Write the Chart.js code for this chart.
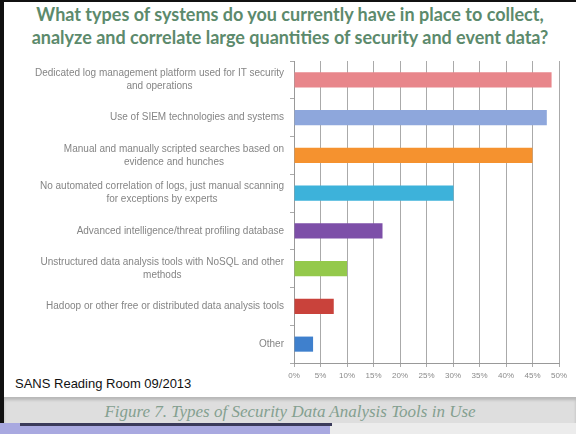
<!DOCTYPE html>
<html>
<head>
<meta charset="utf-8">
<script src="https://cdn.jsdelivr.net/npm/chart.js@4.4.1/dist/chart.umd.min.js"></script>
<style>
  html, body { margin: 0; padding: 0; }
  body { width: 576px; height: 434px; position: relative; overflow: hidden; background: #fff; }
  #frameTop { position: absolute; left: 0; top: 0; width: 576px; height: 2px; background: #111; }
  #frameLeft { position: absolute; left: 0; top: 0; width: 4px; height: 424px; background: #111; }
  .title { position: absolute; left: 4px; width: 572px; text-align: center; font-family: Lato, sans-serif;
           font-weight: bold; font-size: 18px; color: #5c8a6c; white-space: nowrap; }
  #chartBox { position: absolute; left: 0; top: 55px; width: 576px; height: 340px; }
  #source { position: absolute; left: 10px; top: 371px; width: 222px; height: 26px; background: #fff;
            font-family: "Liberation Sans", Arial, sans-serif; font-size: 13px; color: #111; line-height: 26px;
            padding-left: 5px; box-sizing: border-box; }
  #band { position: absolute; left: 4px; top: 397px; width: 572px; height: 27px; background: #dedede;
          box-shadow: inset 0 3px 3px #b8b8b8; }
  #caption { position: absolute; left: 4px; width: 572px; top: 402px; text-align: center; white-space: nowrap;
             font-family: "Liberation Serif", serif; font-style: italic; font-size: 17px; color: #84a090; }
  #strip { position: absolute; left: 0; top: 423px; width: 576px; height: 11px; background: #ececec; }
  #stripLink { position: absolute; left: 0; top: 423px; width: 330px; height: 11px; background: #a9a9e0; }
  #stripLine { position: absolute; left: 20px; top: 423px; width: 312px; height: 3px; background: #3a3a5a; }
</style>
</head>
<body>
<div id="frameTop"></div>
<div id="frameLeft"></div>
<div class="title" style="top:3px">What types of systems do you currently have in place to collect,</div>
<div class="title" style="top:26px">analyze and correlate large quantities of security and event data?</div>
<div id="chartBox"><canvas id="chart"></canvas></div>
<div id="band"></div>
<div id="caption">Figure 7. Types of Security Data Analysis Tools in Use</div>
<div id="strip"></div>
<div id="stripLink"></div>
<div id="stripLine"></div>
<div id="source">SANS Reading Room 09/2013</div>
<script>
var categories = [
  ['Dedicated log management platform used for IT security', 'and operations'],
  'Use of SIEM technologies and systems',
  ['Manual and manually scripted searches based on', 'evidence and hunches'],
  ['No automated correlation of logs, just manual scanning', 'for exceptions by experts'],
  'Advanced intelligence/threat profiling database',
  ['Unstructured data analysis tools with NoSQL and other', 'methods'],
  'Hadoop or other free or distributed data analysis tools',
  'Other'
];
var percentValues = [48.6, 47.7, 45.0, 30.1, 16.7, 10.0, 7.5, 3.6];
var barColors = ['#e8868b', '#8ea7dc', '#f5922f', '#3db2da', '#7d4fa8', '#94c94b', '#c9423b', '#3f80cd'];
var tickValues = [0, 5, 10, 15, 20, 25, 30, 35, 40, 45, 50];

// draws the category labels, lines centred on each other, block right-aligned to the axis
var centredLabels = {
  id: 'centredLabels',
  afterDraw: function (chart) {
    var y = chart.scales.y;
    var ctx = chart.ctx;
    var rightEdge = y.right - 10;
    ctx.save();
    ctx.font = '10px "Liberation Sans", Arial, sans-serif';
    ctx.fillStyle = '#858585';
    ctx.textAlign = 'center';
    ctx.textBaseline = 'middle';
    categories.forEach(function (lab, i) {
      var lines = Array.isArray(lab) ? lab : [lab];
      var widest = 0;
      lines.forEach(function (l) { widest = Math.max(widest, ctx.measureText(l).width); });
      var cx = rightEdge - widest / 2;
      var cy = y.getPixelForTick(i) - (lines.length - 1) * 13 / 2;
      lines.forEach(function (l, k) { ctx.fillText(l, cx, cy + k * 13); });
    });
    ctx.restore();
  }
};

new Chart(document.getElementById('chart'), {
  type: 'bar',
  data: {
    labels: categories,
    datasets: [{
      data: percentValues,
      backgroundColor: barColors,
      borderWidth: 0,
      barPercentage: 0.4,
      categoryPercentage: 1.0
    }]
  },
  options: {
    indexAxis: 'y',
    responsive: true,
    maintainAspectRatio: false,
    animation: false,
    layout: { padding: { top: 6, right: 17, left: 0, bottom: 0 } },
    plugins: { legend: { display: false }, tooltip: { enabled: false } },
    scales: {
      x: {
        min: 0,
        max: 50,
        afterBuildTicks: function (axis) {
          axis.ticks = tickValues.map(function (v) { return { value: v }; });
        },
        afterFit: function (axis) { axis.height = 32; },
        grid: { color: '#aaaaaa', tickLength: 4, lineWidth: 1 },
        border: { color: '#999999' },
        ticks: {
          padding: 4,
          color: '#8a8a8a',
          font: { family: '"Liberation Sans", Arial, sans-serif', size: 8 },
          callback: function (v) { return v + '%'; }
        }
      },
      y: {
        afterFit: function (axis) { axis.width = 294; },
        grid: { drawOnChartArea: false, offset: true, tickLength: 4, color: '#aaaaaa' },
        border: { color: '#999999' },
        ticks: { display: false }
      }
    }
  },
  plugins: [centredLabels]
});
</script>
</body>
</html>
